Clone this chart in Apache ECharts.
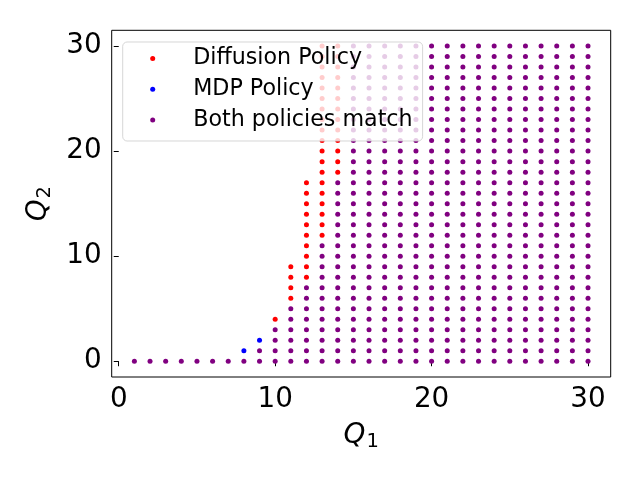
<!DOCTYPE html>
<html>
<head>
<meta charset="utf-8">
<script src="https://cdn.jsdelivr.net/npm/echarts@6/dist/echarts.min.js"></script>
<style>html,body{margin:0;padding:0;background:#fff}#c{width:640px;height:480px}</style>
</head>
<body>
<div id="c"></div>
<script>
// ---- data ----
const q1Values = [1,2,3,4,5,6,7,8,9,10,11,12,13,14,15,16,17,18,19,20,21,22,23,24,25,26,27,28,29,30];
// highest Q2 (from 0) where both policies match, per Q1 column
const bothMaxQ2 = [0,0,0,0,0,0,0,0,1,3,5,7,11,17,30,30,30,30,30,30,30,30,30,30,30,30,30,30,30,30];
// columns where only the diffusion policy acts: [Q1, fromQ2, toQ2]
const diffusionRanges = [[10,4,4],[11,6,9],[12,8,17],[13,12,30],[14,18,30]];
// points where only the MDP policy acts: [Q1, Q2]
const mdpPoints = [[8,1],[9,2]];
const xTicks = [0,10,20,30];
const yTicks = [0,10,20,30];
const seriesNames = ['Diffusion Policy','MDP Policy','Both policies match'];

// ---- build point tables ----
const bothPoints = [];
q1Values.forEach((q, i) => { for (let y = 0; y <= bothMaxQ2[i]; y++) bothPoints.push([q, y]); });
const diffusionPoints = [];
diffusionRanges.forEach(([q, a, b]) => { for (let y = a; y <= b; y++) diffusionPoints.push([q, y]); });

const FONT = 'DejaVu Sans';
const chart = echarts.init(document.getElementById('c'));
chart.setOption({
  animation: false,
  backgroundColor: '#fff',
  grid: { left: 111.7, right: 29.3, top: 30.3, bottom: 103, show: true, borderColor: '#000', borderWidth: 1, containLabel: false, outerBoundsMode: 'none' },
  legend: {
    orient: 'vertical', left: 122.7, top: 42,
    padding: [5.5, 10, 9.9, 27.5],
    itemGap: 8.8, itemWidth: 5, itemHeight: 5, icon: 'circle',
    backgroundColor: 'rgba(255,255,255,0.8)', borderColor: 'rgba(204,204,204,0.8)', borderWidth: 1, borderRadius: 4.4,
    textStyle: { fontFamily: FONT, fontSize: 22.2, color: '#000', lineHeight: 22, padding: [0,0,0,33] },
    data: seriesNames
  },
  xAxis: {
    type: 'value', min: -0.45, max: 31.45,
    axisLine: { show: false },
    axisTick: { show: true, length: 5, lineStyle: { color: '#000', width: 1 }, customValues: xTicks },
    axisLabel: { fontFamily: FONT, fontSize: 27.8, color: '#000', margin: 9, customValues: xTicks },
    splitLine: { show: false },
    name: '{q|Q}{s|1}', nameLocation: 'middle', nameGap: 39,
    nameTextStyle: { rich: {
      q: { fontFamily: FONT, fontStyle: 'italic', fontSize: 27.8, lineHeight: 31, color: '#000' },
      s: { fontFamily: FONT, fontSize: 19.5, lineHeight: 19, padding: [13,0,0,1], color: '#000' }
    } }
  },
  yAxis: {
    type: 'value', min: -1.5, max: 31.5,
    axisLine: { show: false },
    axisTick: { show: true, length: 5, lineStyle: { color: '#000', width: 1 }, customValues: yTicks },
    axisLabel: { fontFamily: FONT, fontSize: 27.8, color: '#000', margin: 10, customValues: yTicks },
    splitLine: { show: false },
    name: '{q|Q}{s|2}', nameLocation: 'middle', nameGap: 51,
    nameTextStyle: { rich: {
      q: { fontFamily: FONT, fontStyle: 'italic', fontSize: 27.8, lineHeight: 31, color: '#000' },
      s: { fontFamily: FONT, fontSize: 19.5, lineHeight: 19, padding: [13,0,0,1], color: '#000' }
    } }
  },
  series: [
    { name: seriesNames[0], type: 'scatter', data: diffusionPoints, symbolSize: 5, itemStyle: { color: '#ff0000', opacity: 1 }, clip: false },
    { name: seriesNames[1], type: 'scatter', data: mdpPoints, symbolSize: 5, itemStyle: { color: '#0000ff', opacity: 1 }, clip: false },
    { name: seriesNames[2], type: 'scatter', data: bothPoints, symbolSize: 5, itemStyle: { color: '#800080', opacity: 1 }, clip: false }
  ]
});
</script>
</body>
</html>
